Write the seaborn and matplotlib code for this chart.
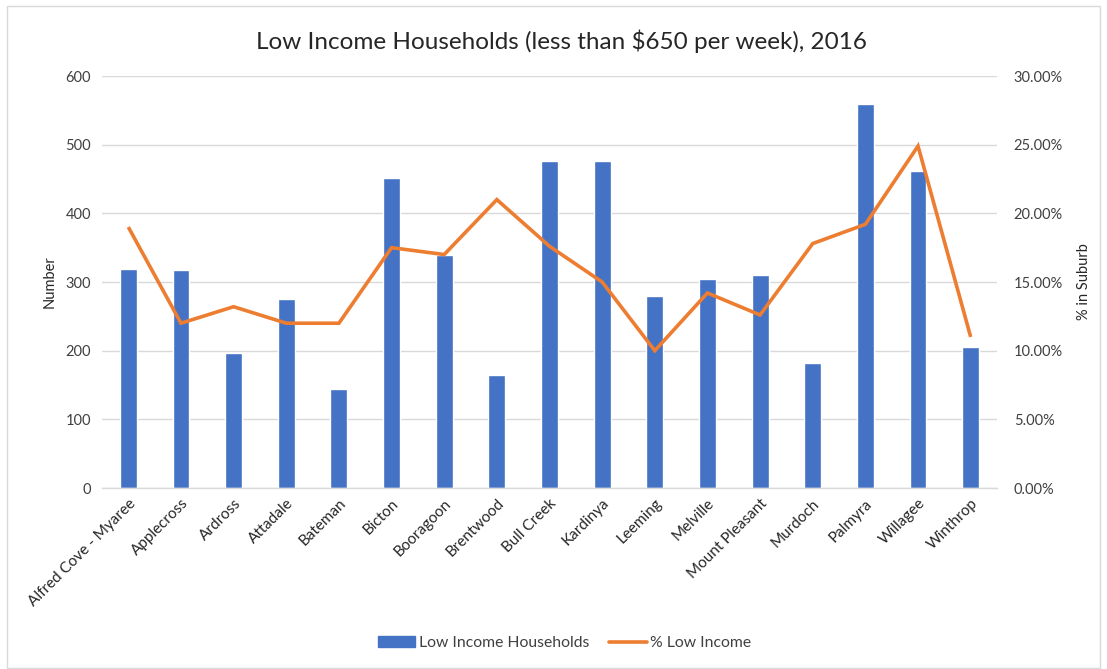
import matplotlib
matplotlib.use("Agg")
import matplotlib.pyplot as plt
import matplotlib.patches as mpatches
from matplotlib.lines import Line2D
from matplotlib.ticker import FuncFormatter
import numpy as np
import pandas as pd
import seaborn as sns

suburbs = ["Alfred Cove - Myaree", "Applecross", "Ardross", "Attadale", "Bateman",
           "Bicton", "Booragoon", "Brentwood", "Bull Creek", "Kardinya", "Leeming",
           "Melville", "Mount Pleasant", "Murdoch", "Palmyra", "Willagee", "Winthrop"]
households = [319, 317, 196, 275, 144, 451, 339, 165, 476, 476, 279, 304, 310, 182, 559, 462, 206]
pct_low = [19.0, 12.0, 13.2, 12.0, 12.0, 17.5, 17.0, 21.0, 17.6, 15.0, 10.0, 14.2, 12.6, 17.8, 19.2, 24.9, 11.0]
left_ticks = [0, 100, 200, 300, 400, 500, 600]
right_ticks = [0, 5, 10, 15, 20, 25, 30]

BLUE = "#4472C4"
ORANGE = "#ED7D31"
GRID = "#D9D9D9"
TXT = "#404040"

sns.set_style("white")
plt.rcParams['font.family'] = ['Lato', 'DejaVu Sans']

df = pd.DataFrame({"Suburb": suburbs, "Households": households,
                   "Pct": pct_low, "pos": np.arange(len(suburbs))})

fig = plt.figure(figsize=(11.07, 6.69), dpi=100)
ax = fig.add_axes([102/1107, 1 - 488/669, (997-102)/1107, (488-76)/669])

sns.barplot(data=df, x="Suburb", y="Households", color=BLUE, width=0.32,
            saturation=1, ax=ax, zorder=2)
ax.set_xlim(-0.5, len(suburbs) - 0.5)
ax.set_ylim(0, 600)
ax.set_yticks(left_ticks)
ax.yaxis.grid(True, color=GRID, linewidth=1, zorder=0)
ax.set_axisbelow(True)
for s in ["top", "right", "left"]:
    ax.spines[s].set_visible(False)
ax.spines["bottom"].set_color(GRID)
ax.spines["bottom"].set_linewidth(1)
ax.tick_params(axis="both", length=0, labelsize=10.5, colors=TXT, pad=8)
ax.set_xticks(range(len(suburbs)))
ax.set_xticklabels(suburbs, rotation=45, ha="right", va="top", rotation_mode="anchor",
                   fontsize=11, color="#262626")
ax.tick_params(axis="x", pad=6)
ax.set_xlabel("")
ax.set_ylabel("Number", fontsize=10.5, color="#262626", labelpad=6)

ax2 = ax.twinx()
sns.lineplot(data=df, x="pos", y="Pct", color=ORANGE, linewidth=2.6, ax=ax2,
             solid_joinstyle="miter", solid_capstyle="butt")
ax2.set_ylim(0, 30)
ax2.set_yticks(right_ticks)
ax2.yaxis.set_major_formatter(FuncFormatter(lambda v, p: f"{v:.2f}%"))
for s in ["top", "right", "left", "bottom"]:
    ax2.spines[s].set_visible(False)
ax2.tick_params(axis="y", length=0, labelsize=10.5, colors=TXT, pad=12)
ax2.set_ylabel("% in Suburb", fontsize=10.5, color="#262626", labelpad=10)
ax2.set_xlim(-0.5, len(suburbs) - 0.5)
ax2.set_xlabel("")

fig.text(0.507, 1 - 41/669, "Low Income Households (less than $650 per week), 2016",
         ha="center", va="center", fontsize=17.5, color="#262626")

handles = [mpatches.Patch(color=BLUE, label="Low Income Households"),
           Line2D([0], [0], color=ORANGE, linewidth=2.6, label="% Low Income")]
fig.legend(handles=handles, loc="center", bbox_to_anchor=(0.510, 1 - 643/669), ncol=2,
           frameon=False, fontsize=11.3, handlelength=2.4, columnspacing=1.3,
           handletextpad=0.2, labelcolor="#404040")

border = mpatches.Rectangle((7/1107, 1/669), (1100-7)/1107, (662)/669,
                            transform=fig.transFigure, fill=False,
                            edgecolor="#D9D9D9", linewidth=1)
fig.patches.append(border)

fig.savefig("out.png", dpi=100)
